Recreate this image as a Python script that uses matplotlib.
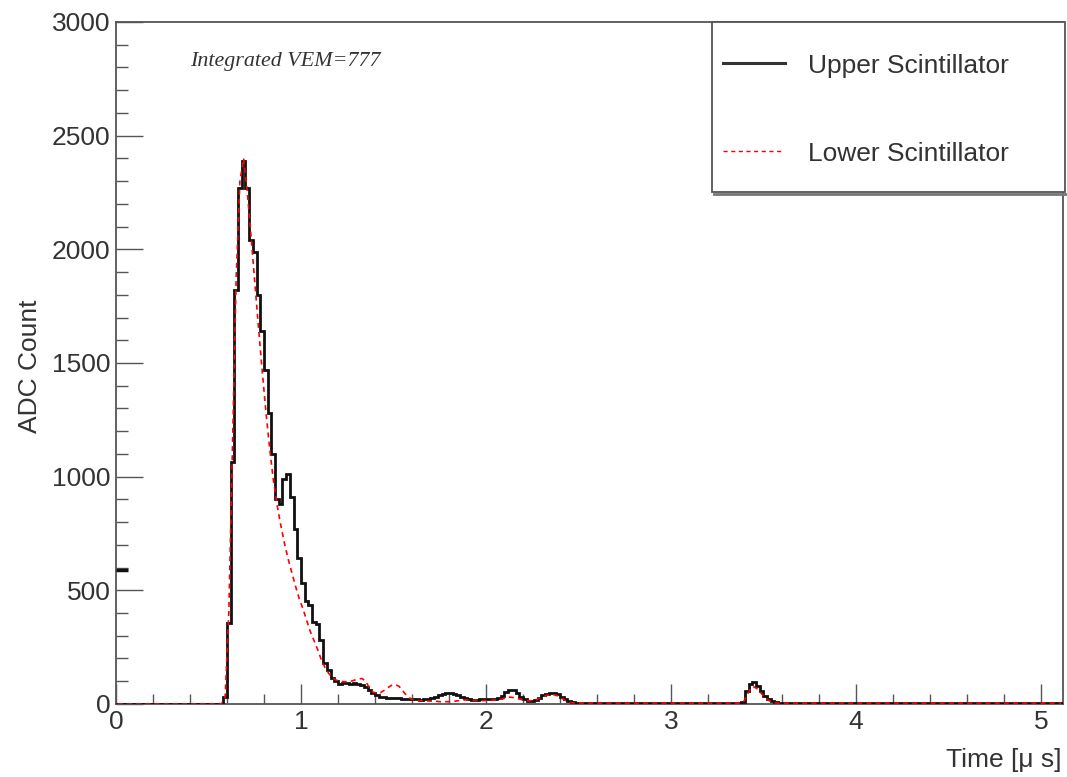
import matplotlib
matplotlib.use("Agg")
import matplotlib.pyplot as plt
import numpy as np
from matplotlib.patches import Rectangle
from matplotlib.lines import Line2D

plt.rcParams["font.family"] = ["Liberation Sans", "DejaVu Sans"]

# 256 bins of 20 ns covering 0 - 5.12 us
bin_width = 0.02
n_bins = 256

upper_counts = [
    0, 0, 0, 0, 0, 0, 0, 0, 0, 0, 0, 0, 0, 0, 0, 0,
    0, 0, 0, 0, 0, 0, 0, 0, 0, 0, 0, 0, 0, 30, 356, 1064,
    1820, 2270, 2390, 2270, 2040, 1990, 1800, 1640, 1470, 1280, 1100, 900, 880, 990, 1010, 910,
    770, 640, 530, 455, 435, 360, 350, 280, 180, 150, 115, 100, 90, 92, 92, 90,
    92, 88, 85, 75, 62, 50, 40, 32, 30, 28, 27, 26, 25, 24, 22, 20,
    20, 20, 18, 20, 22, 25, 30, 38, 45, 48, 48, 45, 40, 32, 25, 20,
    18, 18, 20, 20, 22, 20, 22, 25, 35, 52, 62, 60, 48, 30, 20, 15,
    15, 18, 25, 38, 45, 48, 48, 42, 32, 20, 12, 8, 5, 5, 5, 5,
    5, 5, 5, 5, 5, 5, 5, 5, 5, 5, 5, 5, 5, 5, 5, 5,
    5, 5, 5, 5, 5, 5, 5, 5, 5, 5, 5, 5, 5, 5, 5, 5,
    5, 5, 5, 5, 5, 5, 5, 5, 5, 8, 55, 90, 97, 80, 55, 35,
    22, 15, 10, 4, 4, 4, 4, 4, 4, 4, 4, 4, 4, 4, 4, 4,
    4, 4, 4, 4, 4, 4, 4, 4, 4, 4, 4, 4, 4, 4, 4, 4,
    4, 4, 4, 4, 4, 4, 4, 4, 4, 4, 4, 4, 4, 4, 4, 4,
    4, 4, 4, 4, 4, 4, 4, 4, 4, 4, 4, 4, 4, 4, 4, 4,
    4, 4, 4, 4, 4, 4, 4, 4, 4, 4, 4, 4, 4, 4, 4, 4,
]

lower_counts = [
    0, 0, 0, 0, 0, 0, 0, 0, 0, 0, 0, 0, 0, 0, 0, 0,
    0, 0, 0, 0, 0, 0, 0, 0, 0, 0, 0, 0, 0, 30, 400, 1150,
    1880, 2300, 2400, 2250, 2060, 1860, 1660, 1470, 1290, 1130, 990, 880, 790, 710, 640, 580,
    520, 465, 420, 370, 320, 280, 240, 195, 160, 135, 115, 105, 100, 98, 98, 100,
    105, 110, 112, 100, 70, 52, 48, 50, 60, 72, 82, 85, 78, 58, 38, 25,
    18, 15, 14, 14, 13, 12, 12, 10, 10, 10, 10, 12, 14, 16, 18, 18,
    16, 15, 14, 15, 16, 16, 18, 20, 22, 28, 30, 28, 24, 20, 16, 14,
    15, 18, 25, 32, 38, 40, 40, 35, 25, 15, 8, 5, 4, 4, 4, 4,
    4, 4, 4, 4, 4, 4, 4, 4, 4, 4, 4, 4, 4, 4, 4, 4,
    4, 4, 4, 4, 4, 4, 4, 4, 4, 4, 4, 4, 4, 4, 4, 4,
    4, 4, 4, 4, 4, 4, 4, 4, 4, 6, 35, 70, 75, 65, 45, 28,
    15, 8, 4, 4, 4, 4, 4, 4, 4, 4, 4, 4, 4, 4, 4, 4,
    4, 4, 4, 4, 4, 4, 4, 4, 4, 4, 4, 4, 4, 4, 4, 4,
    4, 4, 4, 4, 4, 4, 4, 4, 4, 4, 4, 4, 4, 4, 4, 4,
    4, 4, 4, 4, 4, 4, 4, 4, 4, 4, 4, 4, 4, 4, 4, 4,
    4, 4, 4, 4, 4, 4, 4, 4, 4, 4, 4, 4, 4, 4, 4, 4,
]

threshold_level = 590
x_ticks = [0, 1, 2, 3, 4, 5]
y_ticks = [0, 500, 1000, 1500, 2000, 2500, 3000]
series_labels = ["Upper Scintillator", "Lower Scintillator"]
annotation = "Integrated VEM=777"

edges = np.arange(n_bins + 1) * bin_width
centers = edges[:-1] + bin_width / 2

frame_col = "#555555"
text_col = "#333333"

fig = plt.figure(figsize=(10.67, 7.77), dpi=100)
ax = fig.add_axes([0.1087, 0.094, 0.8876, 0.8777])

ax.stairs(upper_counts, edges, color="#111111", lw=2.0, zorder=3)
ax.plot(centers, lower_counts, color="red", lw=1.2, ls=(0, (3, 2.5)), zorder=4)

# short level marker on the left edge
ax.plot([0, 0.065], [threshold_level, threshold_level], color="#111111", lw=2.5,
        solid_capstyle="butt", zorder=5, clip_on=False)

ax.set_xlim(0, 5.12)
ax.set_ylim(0, 3000)
ax.set_xticks(x_ticks)
ax.set_yticks(y_ticks)
ax.set_xticks(np.arange(0, 5.12, 0.2), minor=True)
ax.set_yticks(np.arange(0, 3001, 100), minor=True)
ax.set_xticklabels([str(v) for v in x_ticks])
ax.set_yticklabels([str(v) for v in y_ticks])

ax.tick_params(axis="both", which="both", direction="in", colors=frame_col,
               labelcolor=text_col, labelsize=19, top=False, right=False)
ax.tick_params(axis="y", which="major", length=19.5, width=1.0, pad=4)
ax.tick_params(axis="y", which="minor", length=8.5, width=1.0)
ax.tick_params(axis="x", which="major", length=14.5, width=1.0, pad=4)
ax.tick_params(axis="x", which="minor", length=7.5, width=1.0)

for sp in ax.spines.values():
    sp.set_color(frame_col)
    sp.set_linewidth(1.3)

fig.text(0.9953, 0.0219, "Time [μ s]", ha="right", va="center",
         fontsize=19, color=text_col)
fig.text(0.028, 0.529, "ADC Count", ha="center", va="center", rotation=90,
         fontsize=19, color=text_col)

ax.text(0.078, 0.942, annotation, transform=ax.transAxes, ha="left", va="center",
        fontsize=15.8, style="italic", color=text_col,
        family=["Liberation Serif", "DejaVu Serif"])

# legend box
fig_w, fig_h = 1067.0, 777.0
lx0, lx1 = 712 / fig_w, 1065 / fig_w
ly0, ly1 = 1 - 192 / fig_h, 1 - 22 / fig_h
fig.patches.append(Rectangle((lx0, ly0), lx1 - lx0, ly1 - ly0, transform=fig.transFigure,
                             facecolor="white", edgecolor=frame_col, lw=1.3, zorder=10))
fig.lines.append(Line2D([lx0 + 0.002, lx1 + 0.002], [ly0 - 0.003, ly0 - 0.003],
                        transform=fig.transFigure, color="#777777", lw=2.0, zorder=9))
fig.lines.append(Line2D([723 / fig_w, 785 / fig_w], [1 - 63 / fig_h] * 2,
                        transform=fig.transFigure, color="#333333", lw=2.2, zorder=11))
fig.lines.append(Line2D([723 / fig_w, 782 / fig_w], [1 - 151 / fig_h] * 2,
                        transform=fig.transFigure, color="red", lw=1.0,
                        ls=(0, (3, 2.5)), zorder=11))
fig.text(808 / fig_w, 1 - 66 / fig_h, series_labels[0], ha="left", va="center",
         fontsize=19, color=text_col, zorder=12)
fig.text(808 / fig_w, 1 - 154 / fig_h, series_labels[1], ha="left", va="center",
         fontsize=19, color=text_col, zorder=12)

fig.savefig("out.png", dpi=100)
